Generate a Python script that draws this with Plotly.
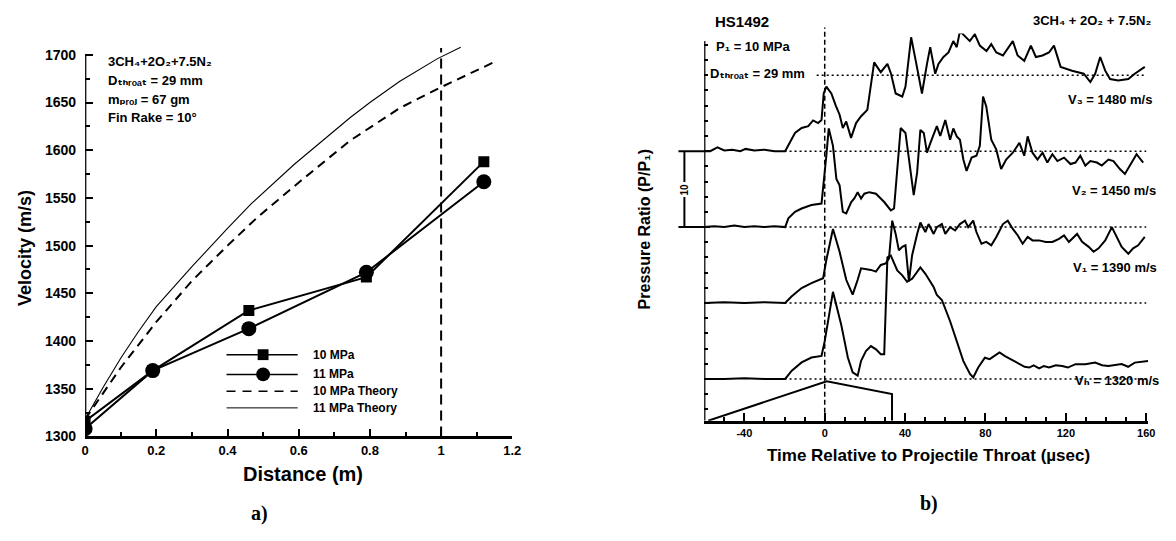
import plotly.graph_objects as go

W, H = 1176, 541

# ---------------- Panel a) data ----------------
dist_10mpa = [0, 0.19, 0.46, 0.79, 1.12]
vel_10mpa = [1316, 1369, 1432, 1467, 1588]
dist_11mpa = [0, 0.19, 0.46, 0.79, 1.12]
vel_11mpa = [1308, 1369, 1413, 1472, 1567]
theory10_x = [0, 0.1, 0.2, 0.3, 0.4, 0.485, 0.606, 0.744, 0.883, 0.994, 1.147]
theory10_y = [1318, 1372, 1420, 1463, 1500, 1530, 1568, 1610, 1644, 1665, 1692]
theory11_x = [0, 0.05, 0.1, 0.15, 0.2, 0.3, 0.4, 0.467, 0.587, 0.7, 0.744, 0.8, 0.883, 0.99, 1.055]
theory11_y = [1318, 1351, 1382, 1410, 1436, 1478, 1518, 1544, 1585, 1621, 1634, 1650, 1672, 1696, 1708]
x_ticks_a = [0, 0.2, 0.4, 0.6, 0.8, 1.0, 1.2]
x_ticktext_a = ["0", "0.2", "0.4", "0.6", "0.8", "1", "1.2"]
y_ticks_a = [1300, 1350, 1400, 1450, 1500, 1550, 1600, 1650, 1700]
cj_distance = 1.0
legend_names = ["10 MPa", "11 MPa", "10 MPa Theory", "11 MPa Theory"]

# ---------------- Panel b) data (time us, P/P1 above trace baseline) ----------------
v3_trace = [(-60, 0), (-57, 0), (-53.4, 0.5), (-50, 0.1), (-46, 0.2), (-42, 0), (-39.4, 0.3), (-35, 0.1),
            (-30, 0.2), (-25, 0), (-19.7, 0), (-17.3, 1.1), (-14.8, 2.4), (-11.5, 3.05), (-8.2, 3.3),
            (-5.8, 4.05), (-3.3, 3.7), (-1.6, 4.1), (-0.5, 7.6), (0.8, 8.5), (3.3, 7.6), (5.5, 6.0),
            (7.4, 4.8), (9.0, 3.05), (10.7, 3.9), (13.1, 1.75), (15.6, 3.7), (18.0, 4.57), (21.2, 5.44),
            (24.6, 11.7), (27.9, 10.4), (31.2, 11.5), (33.0, 10.2), (35.3, 7.6), (38.6, 7.2), (40.2, 8.5),
            (43.0, 15.0), (45.6, 11.5), (48.4, 7.6), (50.9, 11.5), (52.5, 13.7), (55.0, 10.2), (56.6, 11.5),
            (59.1, 12.4), (61.6, 13.0), (64.0, 14.5), (65.7, 13.7), (67.3, 15.8), (69.8, 15.2), (72.2, 14.5),
            (74.7, 15.4), (77.2, 13.9), (80.5, 13.2), (82.9, 14.1), (85.4, 13.0), (88.7, 12.6), (93.6, 14.5),
            (96.0, 12.6), (99.3, 11.9), (102.6, 13.9), (105.1, 12.4), (108.4, 12.6), (111.6, 13.0),
            (114.1, 13.9), (117.4, 11.1), (123.1, 10.6), (128.9, 10.2), (132.2, 9.1), (134.6, 10.2),
            (137.1, 12.4), (139.6, 10.6), (142.0, 9.5), (146.1, 9.3), (151.1, 9.5), (154.3, 10.2),
            (157.6, 10.8), (159.3, 11.1)]
v2_trace = [(-60, 0), (-55, 0.1), (-50, 0), (-45, 0.2), (-40, 0), (-35, 0.1), (-30, 0), (-25, 0.1), (-19.7, 0),
            (-18.1, 1.15), (-14.8, 2.0), (-11.5, 2.45), (-6.6, 2.9), (-1.6, 3.1), (0.8, 9.4), (2.0, 13.0),
            (4.1, 10.7), (5.8, 6.35), (7.4, 5.5), (9.0, 2.0), (10.7, 1.8), (13.2, 3.3), (14.8, 3.8), (16.4, 4.6),
            (18.1, 3.75), (19.7, 4.4), (22.2, 4.6), (25.5, 4.4), (29.6, 3.3), (32.9, 2.2), (34.5, 2.45),
            (36.1, 8.1), (37.8, 13.05), (40.2, 12.4), (42.4, 8.1), (44.3, 4.2), (46.0, 7.2), (47.6, 12.8),
            (49.3, 12.4), (50.9, 9.8), (52.6, 11.1), (55.8, 13.3), (57.5, 12.0), (60.0, 14.1), (62.4, 11.5),
            (64.0, 13.0), (65.7, 11.95), (67.3, 11.5), (69.0, 8.9), (70.6, 7.4), (73.1, 9.15), (75.5, 9.4),
            (77.2, 10.7), (78.8, 17.2), (80.4, 15.9), (82.9, 11.5), (85.4, 10.2), (87.8, 7.65), (90.3, 8.9),
            (93.6, 9.8), (96.9, 11.1), (99.3, 9.4), (101.0, 11.95), (103.4, 9.8), (105.9, 8.9), (108.4, 9.8),
            (110.8, 8.5), (113.3, 9.6), (115.8, 8.7), (119.1, 9.15), (122.3, 8.3), (124.8, 8.5), (127.2, 9.4),
            (129.7, 8.1), (132.2, 8.7), (135.5, 8.5), (137.9, 8.1), (141.2, 8.9), (143.7, 8.7), (146.9, 7.65),
            (149.4, 7.0), (151.9, 8.1), (155.2, 9.6), (158.5, 8.5)]
v1_trace = [(-60, 0), (-50, 0.1), (-40, 0), (-30, 0.1), (-19.7, 0), (-16.4, 0.89), (-11.5, 1.97), (-6.6, 2.62),
            (-0.8, 3.27), (0.8, 5.66), (4.1, 9.76), (7.4, 6.74), (10.7, 3.06), (13.9, 1.11), (16.4, 3.06),
            (18.1, 4.57), (23.0, 4.36), (25.5, 4.14), (27.9, 5.01), (30.4, 5.22), (32.0, 5.87), (33.6, 10.85),
            (35.3, 9.1), (36.9, 6.95), (38.6, 7.4), (40.2, 7.6), (41.9, 2.85), (43.5, 6.3), (46.0, 9.1),
            (47.6, 10.6), (50.1, 9.35), (51.7, 10.4), (54.2, 9.1), (55.8, 10.0), (58.3, 10.4), (60.0, 9.1),
            (62.4, 10.0), (64.9, 9.55), (67.3, 10.4), (69.8, 10.85), (71.4, 10.0), (73.9, 10.85), (75.5, 9.35),
            (78.0, 7.8), (80.4, 8.05), (82.9, 7.6), (85.4, 8.7), (88.7, 10.4), (91.1, 10.85), (93.6, 9.75),
            (96.1, 8.9), (98.5, 7.8), (101.0, 8.7), (103.4, 8.25), (106.7, 8.25), (110.0, 8.05), (113.3, 8.05),
            (116.6, 8.45), (119.1, 8.9), (121.5, 8.05), (125.6, 9.1), (128.1, 8.05), (131.4, 7.4), (133.8, 6.75),
            (136.3, 7.2), (139.6, 8.25), (142.9, 10.0), (145.3, 8.7), (147.8, 7.4), (151.1, 6.5), (153.5, 7.2),
            (156.0, 7.6), (159.3, 8.7)]
vh_trace = [(-60, 0), (-50, 0), (-40, 0.1), (-30, 0), (-19.7, 0), (-16.4, 1.08), (-11.5, 2.17), (-6.6, 2.82),
            (-1.6, 3.03), (0, 4.98), (4.1, 11.47), (8.2, 7.15), (11.5, 2.82), (13.9, 0.87), (16.4, 0.43),
            (18.1, 2.38), (20.5, 3.68), (23.0, 4.33), (25.5, 3.9), (27.9, 3.25), (29.6, 3.25), (31.2, 16.0),
            (32.9, 16.25), (34.5, 15.35), (36.1, 14.3), (38.6, 13.65), (41.0, 12.8), (43.5, 13.2), (46.0, 14.1),
            (47.6, 14.7), (50.1, 13.85), (51.7, 13.2), (54.2, 12.1), (55.8, 11.05), (58.3, 10.4), (62.4, 7.6),
            (65.7, 4.95), (69.0, 2.35), (72.3, 0.65), (73.9, 0.2), (76.4, 1.5), (79.7, 2.8), (82.1, 2.6),
            (84.6, 3.05), (87.0, 3.5), (89.5, 3.05), (92.8, 2.6), (96.9, 1.95), (99.5, 1.6), (101.8, 1.5),
            (104.0, 1.8), (106.7, 1.4), (109.0, 1.7), (111.7, 1.5), (115.0, 1.8), (118.2, 1.7), (121.0, 1.5),
            (124.8, 1.95), (129.7, 1.95), (134.6, 2.15), (138.0, 1.8), (141.2, 1.7), (147.8, 1.95), (151.0, 1.6),
            (154.3, 2.15), (160.9, 2.35)]
trace_offsets = [5.5, 15.5, 25.5, 35.5]          # Vh, V1, V2, V3 baselines
trace_labels = ["Vₕ = 1320 m/s", "V₁ = 1390 m/s", "V₂ = 1450 m/s", "V₃ = 1480 m/s"]
projectile_t = [-58, 1, 33.5, 33.5]
projectile_p = [0, 5.2, 3.5, 0]
x_ticks_b = [-40, 0, 40, 80, 120, 160]

# ---------------- helpers ----------------
def PX(x):
    return x / W

def PY(y):
    return 1 - y / H

FONT = "Liberation Sans, Arial, DejaVu Sans, sans-serif"
SERIF = "Liberation Serif, Times New Roman, serif"
K = "black"

fig = go.Figure()

# panel a traces
fig.add_trace(go.Scatter(x=theory11_x, y=theory11_y, mode="lines", line=dict(color=K, width=1.1),
                         xaxis="x", yaxis="y", name=legend_names[3]))
fig.add_trace(go.Scatter(x=theory10_x, y=theory10_y, mode="lines", line=dict(color=K, width=2, dash="9px,6px"),
                         xaxis="x", yaxis="y", name=legend_names[2]))
fig.add_trace(go.Scatter(x=dist_10mpa, y=vel_10mpa, mode="lines+markers", line=dict(color=K, width=2),
                         marker=dict(symbol="square", size=11, color=K), xaxis="x", yaxis="y", name=legend_names[0]))
fig.add_trace(go.Scatter(x=dist_11mpa, y=vel_11mpa, mode="lines+markers", line=dict(color=K, width=2),
                         marker=dict(symbol="circle", size=15, color=K), xaxis="x", yaxis="y", name=legend_names[1]))

# panel b traces
for pairs, off in zip([vh_trace, v1_trace, v2_trace, v3_trace], trace_offsets):
    t = [a for a, b in pairs]
    p = [b + off for a, b in pairs]
    fig.add_trace(go.Scatter(x=t, y=p, mode="lines", line=dict(color=K, width=2),
                             xaxis="x2", yaxis="y2"))
fig.add_trace(go.Scatter(x=projectile_t, y=projectile_p, mode="lines", line=dict(color=K, width=2),
                         xaxis="x2", yaxis="y2"))

shapes = []
shapes.append(dict(type="line", xref="x", yref="y", x0=0, x1=0, y0=1300, y1=1700, line=dict(color=K, width=2.5)))
shapes.append(dict(type="line", xref="x", yref="y", x0=cj_distance, x1=cj_distance, y0=1300, y1=1707,
                   line=dict(color=K, width=2, dash="10px,6px")))
leg_rows = [360, 380, 397, 414]
shapes.append(dict(type="line", xref="paper", yref="paper", x0=PX(225), x1=PX(297), y0=PY(leg_rows[0]), y1=PY(leg_rows[0]), line=dict(color=K, width=1.5)))
shapes.append(dict(type="rect", xref="paper", yref="paper", x0=PX(256.5), x1=PX(267.5), y0=PY(leg_rows[0] - 5.5), y1=PY(leg_rows[0] + 5.5), fillcolor=K, line=dict(width=0)))
shapes.append(dict(type="line", xref="paper", yref="paper", x0=PX(225), x1=PX(297), y0=PY(leg_rows[1]), y1=PY(leg_rows[1]), line=dict(color=K, width=1.5)))
shapes.append(dict(type="circle", xref="paper", yref="paper", x0=PX(255), x1=PX(269), y0=PY(leg_rows[1] - 7), y1=PY(leg_rows[1] + 7), fillcolor=K, line=dict(width=0)))
shapes.append(dict(type="line", xref="paper", yref="paper", x0=PX(225), x1=PX(297), y0=PY(leg_rows[2]), y1=PY(leg_rows[2]), line=dict(color=K, width=1.5, dash="9px,7px")))
shapes.append(dict(type="line", xref="paper", yref="paper", x0=PX(225), x1=PX(297), y0=PY(leg_rows[3]), y1=PY(leg_rows[3]), line=dict(color=K, width=1)))

shapes.append(dict(type="line", xref="x2", yref="y2", x0=-60, x1=-60, y0=0, y1=50, line=dict(color=K, width=2.5)))
for lvl in trace_offsets:
    shapes.append(dict(type="line", xref="x2", yref="y2", x0=-20, x1=160, y0=lvl, y1=lvl,
                       line=dict(color=K, width=1.5, dash="2px,3px")))
shapes.append(dict(type="line", xref="x2", yref="y2", x0=-4, x1=160, y0=trace_offsets[-1] + 10, y1=trace_offsets[-1] + 10,
                   line=dict(color=K, width=1.5, dash="2px,3px")))
shapes.append(dict(type="line", xref="x2", yref="paper", x0=0, x1=0, y0=PY(427), y1=PY(28),
                   line=dict(color=K, width=1.5, dash="5px,3px")))
shapes.append(dict(type="line", xref="paper", yref="y2", x0=PX(688), x1=PX(688), y0=trace_offsets[2], y1=trace_offsets[3], line=dict(color=K, width=2)))
shapes.append(dict(type="line", xref="paper", yref="y2", x0=PX(682), x1=PX(708), y0=trace_offsets[2], y1=trace_offsets[2], line=dict(color=K, width=2)))
shapes.append(dict(type="line", xref="paper", yref="y2", x0=PX(682), x1=PX(708), y0=trace_offsets[3], y1=trace_offsets[3], line=dict(color=K, width=2)))

ann = []
def txt(x, y, s, size=13, anchor="left", angle=0, family=FONT, bg=None):
    d = dict(x=PX(x), y=PY(y), xref="paper", yref="paper", text="<b>" + s + "</b>", showarrow=False,
             xanchor=anchor, yanchor="middle", textangle=angle,
             font=dict(family=family, size=size, color=K))
    if bg:
        d["bgcolor"] = bg
    ann.append(d)

# panel a texts
txt(103, 62, "3CH₄+2O₂+7.5N₂", 13)
txt(103, 82, "Dₜₕᵣₒₐₜ = 29 mm", 13)
txt(103, 101, "mₚᵣₒⱼ = 67 gm", 13)
txt(103, 119, "Fin Rake = 10°", 13)
txt(22, 252, "Velocity (m/s)", 18, anchor="center", angle=-90)
txt(302, 481, "Distance (m)", 20, anchor="center")
txt(258, 521, "a)", 20, anchor="center", family=SERIF)
for r, name in zip(leg_rows, legend_names):
    txt(310, r, name, 12)

# panel b texts
txt(717, 22, "HS1492", 15)
txt(718, 47, "P₁ = 10 MPa", 13)
txt(712, 75, "Dₜₕᵣₒₐₜ = 29 mm", 13)
txt(1162, 21, "3CH₄ + 2O₂ + 7.5N₂", 13, anchor="right")
for lbl, (xx, yy) in zip(trace_labels, [(1170, 386), (1168, 272), (1167, 193), (1163, 101)]):
    txt(xx, yy, lbl, 13, anchor="right")
txt(648, 233, "Pressure Ratio (P/P₁)", 16, anchor="center", angle=-90)
txt(935, 462, "Time Relative to Projectile Throat (µsec)", 17, anchor="center")
txt(935, 511, "b)", 20, anchor="center", family=SERIF)
ann.append(dict(x=PX(688), y=(trace_offsets[2] + trace_offsets[3]) / 2, xref="paper", yref="y2", text="<b>10</b>",
                showarrow=False, textangle=-90, bgcolor="white",
                font=dict(family=FONT, size=10, color=K)))

fig.update_layout(
    width=W, height=H, margin=dict(l=0, r=0, t=0, b=0),
    paper_bgcolor="white", plot_bgcolor="white", showlegend=False,
    shapes=shapes, annotations=ann,
    xaxis=dict(domain=[PX(82), PX(514)], range=[0, 1.2], anchor="y", showline=True, linecolor=K, linewidth=2.5,
               showgrid=False, zeroline=False, ticks="inside", ticklen=8, tickwidth=2, tickcolor=K,
               tickvals=x_ticks_a, ticktext=["<b>" + s + "</b>" for s in x_ticktext_a],
               minor=dict(dtick=0.1, tick0=0, ticks="inside", ticklen=5, tickwidth=1.5, tickcolor=K, showgrid=False),
               tickfont=dict(family=FONT, size=13, color=K)),
    yaxis=dict(domain=[PY(443), PY(44)], range=[1300, 1712], anchor="x", showline=False,
               showgrid=False, zeroline=False, ticks="inside", ticklen=8, tickwidth=2, tickcolor=K,
               tickvals=y_ticks_a, ticktext=["<b>%d</b>" % v for v in y_ticks_a], ticklabelstandoff=8,
               minor=dict(dtick=25, tick0=1300, ticks="inside", ticklen=5, tickwidth=1.5, tickcolor=K, showgrid=False),
               tickfont=dict(family=FONT, size=14, color=K)),
    xaxis2=dict(domain=[PX(708), PX(1157)], range=[-60, 161], anchor="y2", showline=True, linecolor=K, linewidth=2.5,
                showgrid=False, zeroline=False, ticks="inside", ticklen=8, tickwidth=2, tickcolor=K,
                tickvals=x_ticks_b, ticktext=["<b>%d</b>" % v for v in x_ticks_b],
                minor=dict(dtick=10, tick0=0, ticks="inside", ticklen=4, tickwidth=1.5, tickcolor=K, showgrid=False),
                tickfont=dict(family=FONT, size=11, color=K)),
    yaxis2=dict(domain=[PY(427), PY(34)], range=[0, 51], anchor="x2", showline=False, showticklabels=False,
                showgrid=False, zeroline=False, ticks="inside", ticklen=6, tickwidth=2, tickcolor=K,
                tickvals=trace_offsets,
                minor=dict(dtick=2, tick0=trace_offsets[0], ticks="inside", ticklen=4, tickwidth=1.5, tickcolor=K, showgrid=False)),
)

fig.write_html("out.html")
